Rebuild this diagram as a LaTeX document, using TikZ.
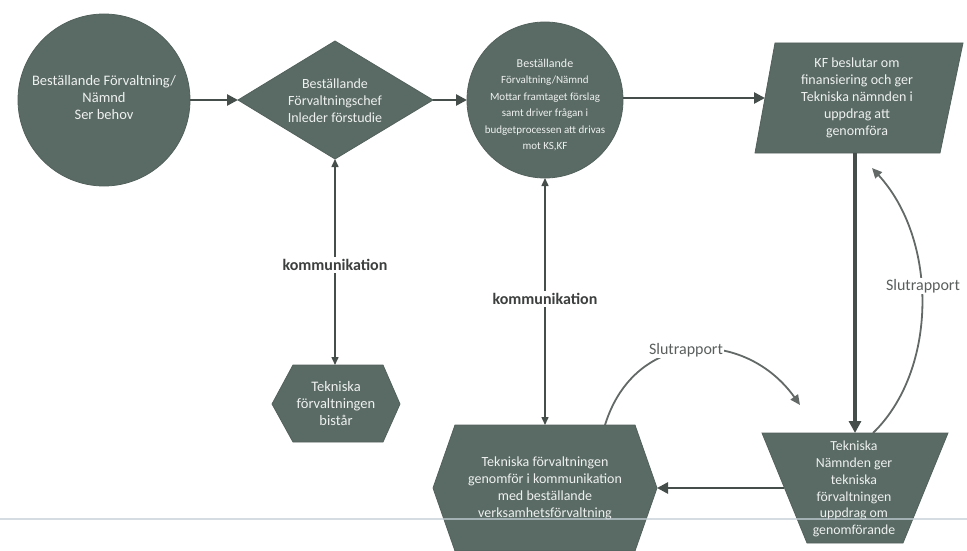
\documentclass[tikz,border=0pt]{standalone}
\usepackage{fontspec}
\setmainfont{Carlito}
\usetikzlibrary{arrows.meta}
\definecolor{shapefill}{HTML}{5A6A64}
\definecolor{shapeedge}{HTML}{52615C}
\definecolor{arrowcol}{HTML}{464E4C}
\definecolor{labelcol}{HTML}{3C3F3E}
\definecolor{slutcol}{HTML}{5A5F5E}
\definecolor{scanline}{HTML}{C3CFD6}
\definecolor{boxtextcol}{HTML}{EEF1F0}
\begin{document}
\begin{tikzpicture}[x=1pt,y=-1pt,
  shapebox/.style={fill=shapefill,draw=shapeedge,line width=0.8pt},
  boxtext/.style={text=boxtextcol,align=center,inner sep=0pt,font=\fontsize{14}{17}\selectfont},
  conn/.style={draw=arrowcol,line width=2.6pt,-{Triangle[length=11pt,width=11pt]}},
  thickconn/.style={draw=arrowcol,line width=3.6pt,-{Triangle[length=12pt,width=12pt]}},
  twoway/.style={draw=arrowcol,line width=1.5pt,{Triangle[length=8pt,width=7pt]}-{Triangle[length=8pt,width=7pt]}},
  curveconn/.style={draw=arrowcol!85,line width=1.8pt},
  komlabel/.style={fill=white,text=labelcol,inner sep=2pt,font=\fontsize{16}{18}\selectfont\bfseries},
  slutlabel/.style={fill=white,text=slutcol,inner sep=1.5pt,font=\fontsize{16}{18}\selectfont}
]
\useasboundingbox (0,0) rectangle (967,551);

% shapes
\filldraw[shapebox] (104,100) circle (86pt);
\filldraw[shapebox] (238,100) -- (335,41) -- (433,100) -- (335,159) -- cycle;
\filldraw[shapebox] (545,100) circle (78pt);
\filldraw[shapebox] (775,43) -- (963,43) -- (940,153) -- (755,153) -- cycle;
\filldraw[shapebox] (762,433) -- (948,433) -- (903,543) -- (807,543) -- cycle;
\filldraw[shapebox] (455,425) -- (635,425) -- (657,488) -- (635,551) -- (455,551) -- (433,488) -- cycle;
\filldraw[shapebox] (293,365) -- (383,365) -- (400,404) -- (383,442) -- (293,442) -- (272,404) -- cycle;

% anchor coordinates on the shapes
\coordinate (c1e) at (190,100);
\coordinate (dw) at (238,100);
\coordinate (de) at (433,100);
\coordinate (ds) at (335,159);
\coordinate (c2w) at (467,100);
\coordinate (c2e) at (623,98);
\coordinate (c2s) at (545,178);
\coordinate (pw) at (765,98);
\coordinate (ps) at (855,153);
\coordinate (tn) at (855,433);
\coordinate (tnr) at (873,433);
\coordinate (pbr) at (872,168);
\coordinate (tw) at (784,488);
\coordinate (he) at (657,488);
\coordinate (hn) at (545,425);
\coordinate (hnr) at (605,425);
\coordinate (tnl) at (800,405);
\coordinate (sn) at (335,365);

% texts
\node[boxtext,font=\fontsize{14.5}{17}\selectfont] (t1) at (104,98) {Beställande Förvaltning/\\Nämnd\\Ser behov};
\node[boxtext] (t2) at (335,101) {Beställande\\Förvaltningschef\\Inleder förstudie};
\node[boxtext,font=\fontsize{11}{16.5}\selectfont] (t3) at (545,105)
  {{\fontsize{12}{16}\selectfont Beställande}\\Förvaltning/Nämnd\\Mottar framtaget förslag\\samt driver frågan i\\budgetprocessen att drivas\\mot KS,KF};
\node[boxtext] (t4) at (857,98) {KF beslutar om\\finansiering och ger\\Tekniska nämnden i\\uppdrag att\\genomföra};
\node[boxtext,font=\fontsize{14.5}{17}\selectfont] (t5) at (336,404) {Tekniska\\förvaltningen\\bistår};
\node[boxtext] (t6) at (545,488) {Tekniska förvaltningen\\genomför i kommunikation\\med beställande\\verksamhetsförvaltning};
\node[boxtext,font=\fontsize{13.8}{16.8}\selectfont] (t7) at (854,489) {Tekniska\\Nämnden ger\\tekniska\\förvaltningen\\uppdrag om\\genomförande};

% connectors
\draw[conn] (c1e) -- (dw);
\draw[conn] (de) -- (c2w);
\draw[conn] (c2e) -- (pw);
\draw[thickconn] (ps) -- (tn);
\draw[conn] (tw) -- (he);
\draw[twoway] (ds) -- (sn);
\draw[twoway] (c2s) -- (hn);
\node[komlabel] (k1) at (335,265) {kommunikation};
\node[komlabel] (k2) at (545,299) {kommunikation};

\draw[curveconn,-{Triangle[length=10pt,width=9pt]}] (tnr) .. controls (938,370) and (938,240) .. (pbr);
\node[slutlabel] (s1) at (923,286) {Slutrapport};
\draw[curveconn,-{Triangle[length=10pt,width=9pt]}] (hnr) .. controls (635,328) and (745,328) .. (tnl);
\node[slutlabel] (s2) at (686,350) {Slutrapport};

% scan line
\draw[scanline,line width=1.3pt,opacity=0.7] (0,519) -- (967,519);
\end{tikzpicture}
\end{document}
